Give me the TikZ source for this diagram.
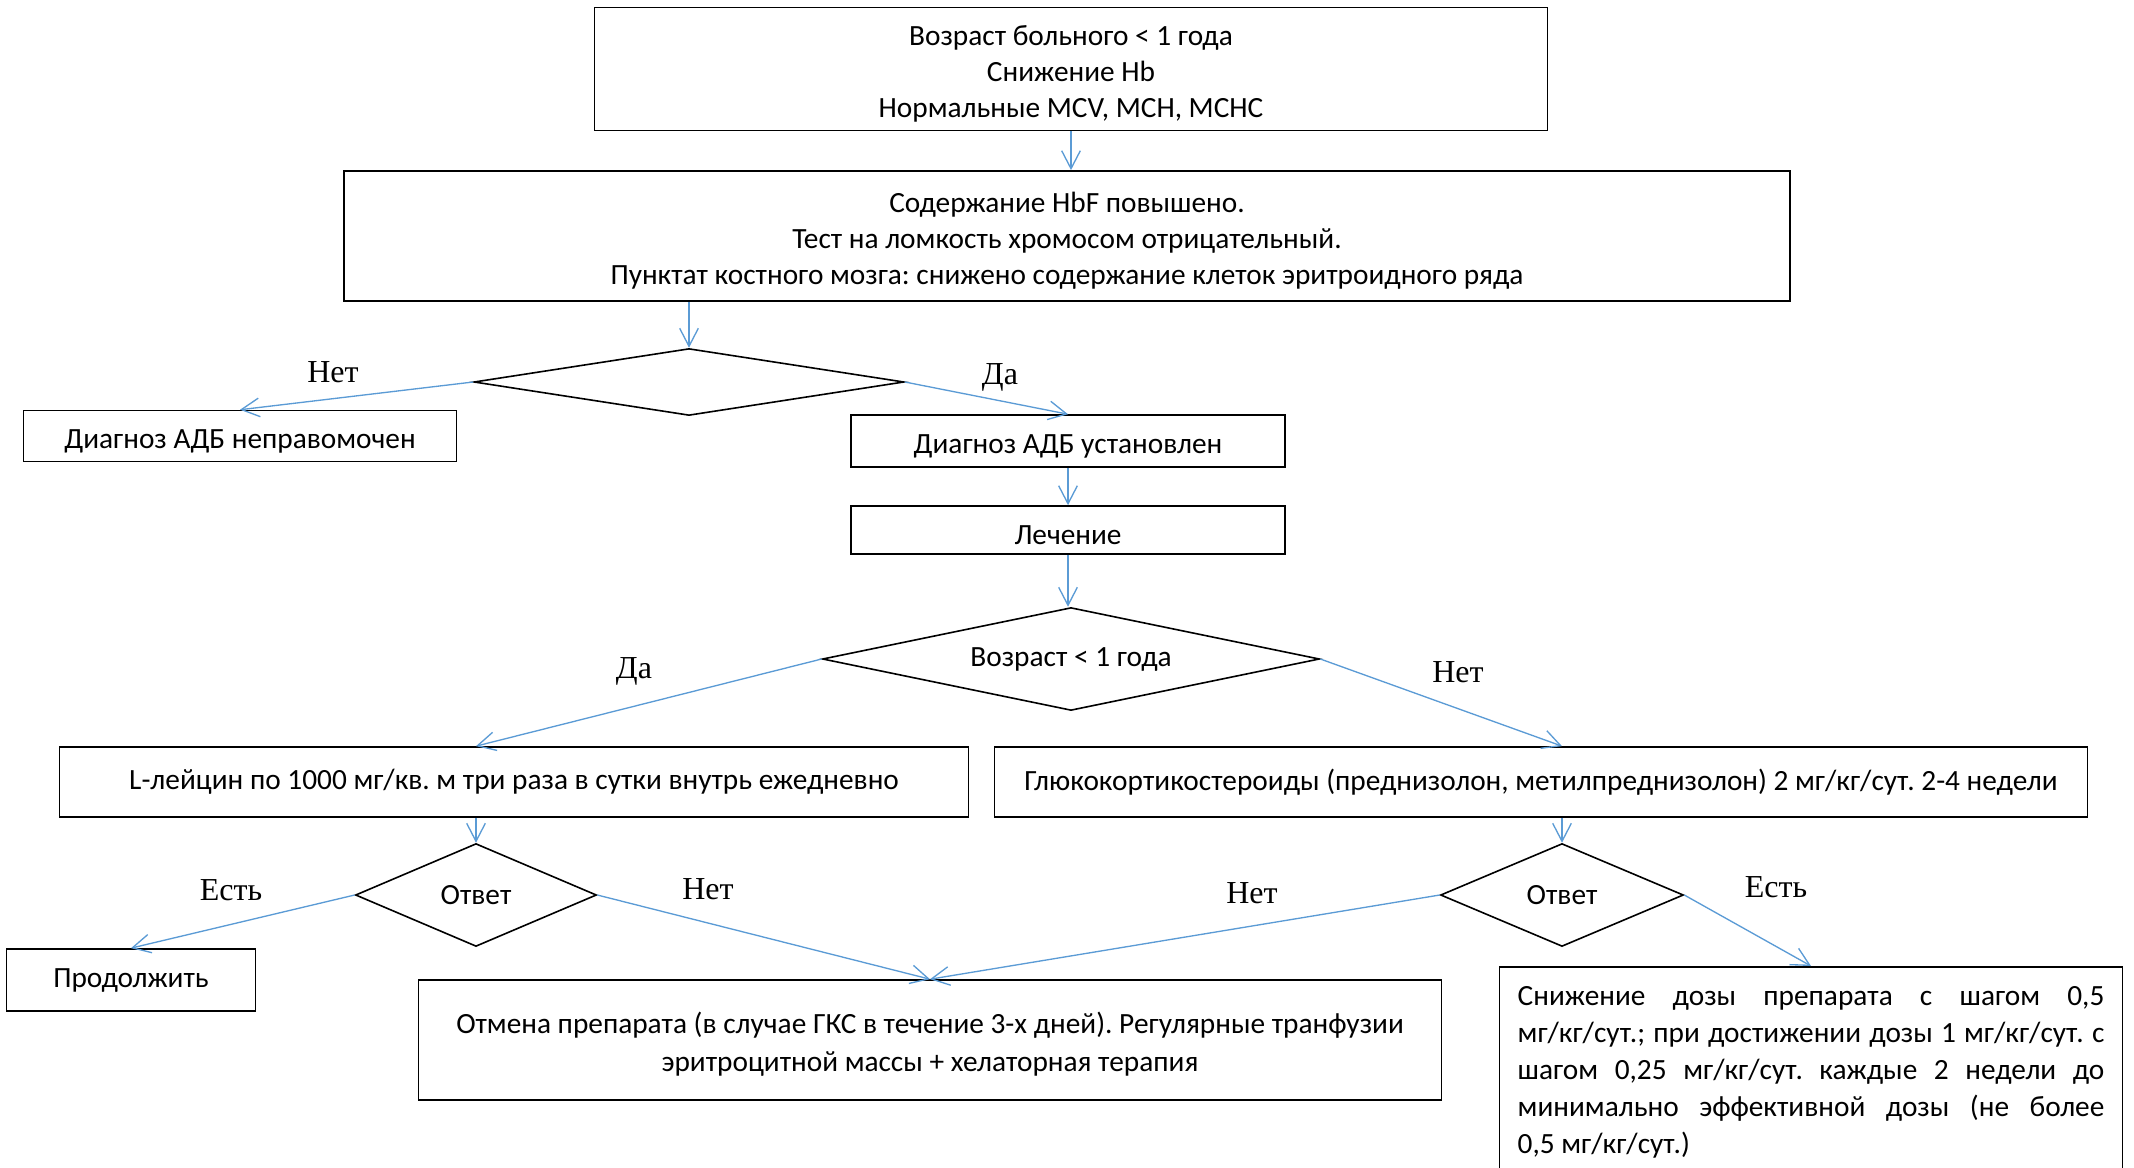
\documentclass[tikz,border=0pt]{standalone}
\usepackage{fontspec}
\setmainfont{Carlito}
\newfontfamily\labelfont{Liberation Serif}
\usetikzlibrary{shapes.geometric, arrows.meta}
\definecolor{arrowblue}{HTML}{5B9BD5}
\newcommand{\topgap}{\rule{0pt}{11pt}}
\frenchspacing

\begin{document}
\begin{tikzpicture}[
    x=0.375pt, y=-0.375pt,
    font=\fontsize{11}{13.5}\selectfont,
    box/.style={rectangle, draw, line width=0.6pt, align=center, inner sep=2pt},
    decision/.style={diamond, draw, line width=0.6pt, inner sep=0pt},
    answer/.style={font=\labelfont\fontsize{12}{14}\selectfont},
    arrow/.style={-{Straight Barb[length=6.75pt, width=7pt]}, line width=0.5pt, draw=arrowblue}
]
\useasboundingbox (0,0) rectangle (2134,1167);

% Nodes
\node[box, minimum width=357.4pt, minimum height=46.1pt] (age) at (1071,69) {\topgap Возраст больного < 1 года\\Снижение Hb\\Нормальные MCV, MCH, MCHC};
\node[box, minimum width=542.3pt, minimum height=48.8pt] (hbf) at (1067,236) {\topgap Содержание HbF повышено.\\Тест на ломкость хромосом отрицательный.\\Пунктат костного мозга: снижено содержание клеток эритроидного ряда};
\node[decision, aspect=6.4, minimum width=161.3pt, minimum height=25.1pt] (check) at (689,382) {};
\node[box, minimum width=162.4pt, minimum height=19.1pt] (notdiag) at (240,436) {\topgap Диагноз АДБ неправомочен};
\node[box, minimum width=162.8pt, minimum height=19.5pt] (diag) at (1068,441) {\topgap Диагноз АДБ установлен};
\node[box, minimum width=162.8pt, minimum height=18pt] (treat) at (1068,530) {\topgap Лечение};
\node[decision, aspect=4.8, minimum width=186.4pt, minimum height=38.6pt] (agecheck) at (1071,659) {Возраст < 1 года};
\node[box, minimum width=340.9pt, minimum height=26.3pt] (leucine) at (514,782) {L-лейцин по 1000 мг/кв. м три раза в сутки внутрь ежедневно};
\node[box, minimum width=409.9pt, minimum height=26.3pt] (gcs) at (1541,782) {Глюкокортикостероиды (преднизолон, метилпреднизолон) 2 мг/кг/сут. 2-4 недели};
\node[decision, aspect=2.34, minimum width=90.4pt, minimum height=38.6pt] (resp1) at (476,895) {Ответ};
\node[decision, aspect=2.36, minimum width=91.1pt, minimum height=38.6pt] (resp2) at (1562,895) {Ответ};
\node[box, minimum width=93.4pt, minimum height=23.3pt] (cont) at (131,980) {Продолжить};
\node[box, minimum width=383.6pt, minimum height=45pt] (cancel) at (930,1040) {\topgap Отмена препарата (в случае ГКС в течение 3-х дней). Регулярные транфузии\\[0.8pt]эритроцитной массы + хелаторная терапия};
\node[box, anchor=north, text width=220pt, align=justify, inner xsep=6.75pt, inner ysep=6pt, font=\fontsize{11}{13.9}\selectfont] (taper) at (1811,966) {\rule{0pt}{8.5pt}Снижение дозы препарата с шагом 0,5\linebreak мг/кг/сут.; при достижении дозы 1 мг/кг/сут. с\linebreak шагом 0,25 мг/кг/сут. каждые 2 недели до\linebreak минимально эффективной дозы (не более\linebreak 0,5 мг/кг/сут.)};

% Labels
\node[answer] (no1) at (333,372) {Нет};
\node[answer] (yes1) at (1000,377) {Да};
\node[answer] (yes2) at (634,671) {Да};
\node[answer] (no2) at (1458,672) {Нет};
\node[answer] (got1) at (231,890) {Есть};
\node[answer] (no3) at (708,889) {Нет};
\node[answer] (no4) at (1252,893) {Нет};
\node[answer] (got2) at (1776,887) {Есть};

% Arrows
\draw[arrow] (age.south) -- (age.south |- hbf.north);
\draw[arrow] (check |- hbf.south) -- (check.north);
\draw[arrow] (check.west) -- (notdiag.north);
\draw[arrow] (check.east) -- (diag.north);
\draw[arrow] (diag) -- (treat);
\draw[arrow] (treat.south) -- (treat.south |- agecheck.north);
\draw[arrow] (agecheck.west) -- (resp1 |- leucine.north);
\draw[arrow] (agecheck.east) -- (resp2 |- gcs.north);
\draw[arrow] (resp1 |- leucine.south) -- (resp1.north);
\draw[arrow] (resp2 |- gcs.south) -- (resp2.north);
\draw[arrow] (resp1.west) -- (cont.north);
\draw[arrow] (resp1.east) -- (cancel.north);
\draw[arrow] (resp2.west) -- (cancel.north);
\draw[arrow] (resp2.east) -- (taper.north);

\end{tikzpicture}
\end{document}
